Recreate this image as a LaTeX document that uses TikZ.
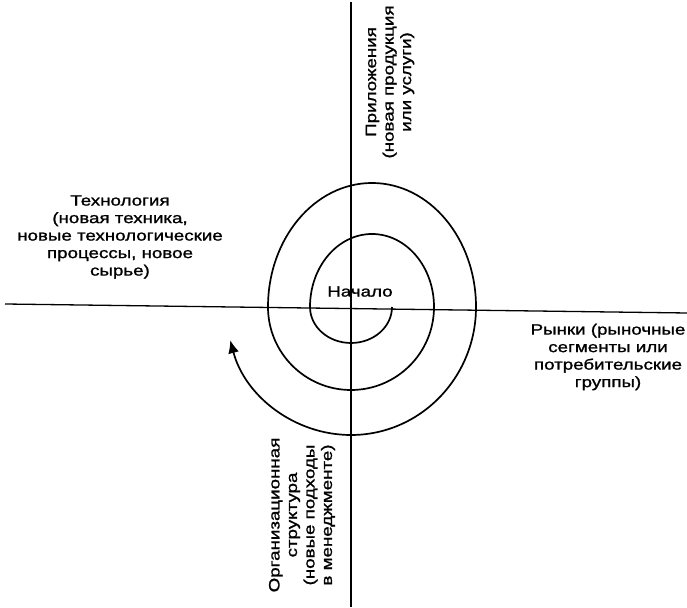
\documentclass[tikz,border=0pt]{standalone}
\usepackage{fontspec}
\newfontfamily\lblfont{Liberation Sans}[FakeStretch=1.25,FakeBold=1.2]
\usetikzlibrary{arrows.meta}
\begin{document}
\begin{tikzpicture}[x=1pt,y=1pt,
  axis/.style={line width=1.3pt},
  spiral/.style={line width=1.7pt},
  lbl/.style={inner sep=0pt, align=center, font=\lblfont\fontsize{15}{17.5}\selectfont}]
\useasboundingbox (0,0) rectangle (687,607);
% axes
\coordinate (hl) at (5,303);
\coordinate (hr) at (687,294);
\coordinate (vt) at (351,605);
\coordinate (vb) at (351,0);
\draw[axis] (hl) -- (hr);
\draw[axis] (vt) -- (vb);
% spiral built from alternating half-ellipses
\coordinate (s0) at (392,300);
\draw[spiral,-{Latex[length=13pt,width=11pt]}] (s0)
  arc[start angle=0,end angle=-180,x radius=41,y radius=36]
  arc[start angle=180,end angle=0,x radius=62,y radius=73]
  arc[start angle=0,end angle=-180,radius=83]
  arc[start angle=180,end angle=0,x radius=104,y radius=124]
  arc[start angle=0,end angle=-165,x radius=125,y radius=128];
% labels
\node[lbl] (start) at (360,315.5) {Начало};
\node[lbl] (tech) at (120,370) {Технология\\(новая техника,\\новые технологические\\процессы, новое\\сырье)};
\node[lbl] (mkt) at (608,250) {Рынки (рыночные\\сегменты или\\потребительские\\группы)};
\node[lbl,rotate=90] (app) at (390,525) {Приложения\\(новая продукция\\или услуги)};
\node[lbl,rotate=90] (org) at (302,92) {Организационная\\структура\\(новые подходы\\в менеджменте)};
\end{tikzpicture}
\end{document}
